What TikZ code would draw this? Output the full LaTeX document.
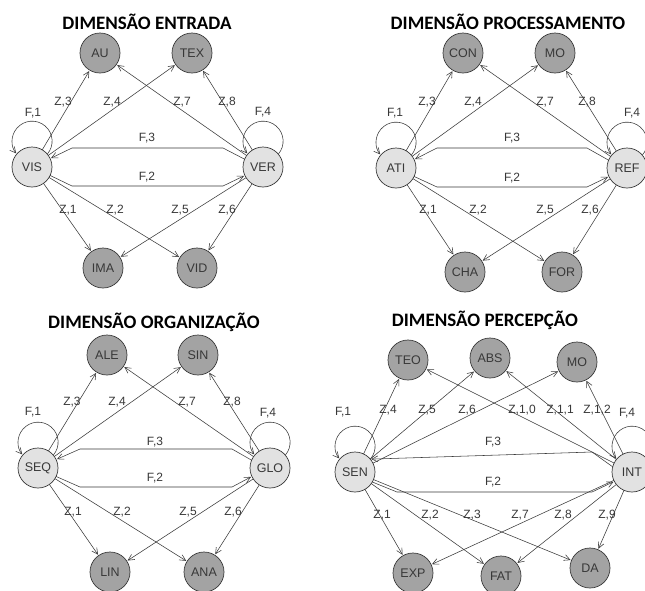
\documentclass[tikz,border=0pt]{standalone}
\usepackage{fontspec}
\setmainfont{Liberation Sans}
\newfontfamily\titlefont{Carlito}
\usetikzlibrary{arrows.meta,calc}
\definecolor{darkfill}{HTML}{A3A3A3}
\definecolor{lightfill}{HTML}{E2E2E2}
\definecolor{edgecol}{HTML}{3A3A3A}
\definecolor{txtcol}{HTML}{383838}
\newcommand\myloop[1]{\draw[arr] (#1.40.5) arc[start angle=-40.5,end angle=220.5,radius=20];}
\begin{document}
\begin{tikzpicture}[x=1pt,y=1pt,
  st/.style={circle,draw=edgecol,line width=0.7pt,minimum size=40pt,inner sep=0pt,outer sep=0pt,font=\fontsize{12.5}{14}\selectfont,text=txtcol},
  src/.style={st,fill=lightfill},
  tgt/.style={st,fill=darkfill},
  arr/.style={draw=edgecol,line width=0.55pt,-{Straight Barb[length=6pt,width=6pt]},shorten >=1pt},
  lbl/.style={font=\fontsize{12}{14}\selectfont,text=txtcol,inner sep=0pt},
  ttl/.style={font=\titlefont\bfseries\fontsize{19}{22}\selectfont,inner sep=0pt}]
\useasboundingbox (0,0) rectangle (645,-590);
\fill[white] (0,0) rectangle (645,-590);
% titles
\node[ttl] (t1) at (147,-22) {DIMENSÃO ENTRADA};
\node[ttl] (t2) at (508,-22) {DIMENSÃO PROCESSAMENTO};
\node[ttl] (t3) at (154,-322) {DIMENSÃO ORGANIZAÇÃO};
\node[ttl] (t4) at (485,-320) {DIMENSÃO PERCEPÇÃO};
% ---------- Q1
\node[tgt] (au) at (100,-53) {AU};
\node[tgt] (tex) at (192,-53) {TEX};
\node[src] (vis) at (32,-167) {VIS};
\node[src] (ver) at (263,-167) {VER};
\node[tgt] (ima) at (103,-268) {IMA};
\node[tgt] (vid) at (197,-268) {VID};
\myloop{vis}
\myloop{ver}
\draw[arr] (vis) -- (au);
\draw[arr] (vis) -- (tex);
\draw[arr] (ver) -- (au);
\draw[arr] (ver) -- (tex);
\draw[arr] (vis) -- (ima);
\draw[arr] (vis) -- (vid);
\draw[arr] (ver) -- (ima);
\draw[arr] (ver) -- (vid);
\draw[arr] (ver.157) -- ($(ver)+(-40,19)$) -- ($(vis)+(40,19)$) -- (vis.25);
\draw[arr] (vis.-25) -- ($(vis)+(40,-19)$) -- ($(ver)+(-40,-19)$) -- (ver.-155);
\node[lbl] (q1f1) at (33,-113) {F,1};
\node[lbl] (q1z3) at (63,-102) {Z,3};
\node[lbl] (q1z4) at (112,-102) {Z,4};
\node[lbl] (q1z7) at (182,-102) {Z,7};
\node[lbl] (q1z8) at (227,-102) {Z,8};
\node[lbl] (q1f4) at (263,-112) {F,4};
\node[lbl] (q1f3) at (147,-138) {F,3};
\node[lbl] (q1f2) at (147,-177) {F,2};
\node[lbl] (q1z1) at (68,-210) {Z,1};
\node[lbl] (q1z2) at (115,-210) {Z,2};
\node[lbl] (q1z5) at (180,-210) {Z,5};
\node[lbl] (q1z6) at (227,-210) {Z,6};
% ---------- Q2
\node[tgt] (con) at (463,-53) {CON};
\node[tgt] (mo1) at (555,-53) {MO};
\node[src] (ati) at (396,-168) {ATI};
\node[src] (ref) at (627,-168) {REF};
\node[tgt] (cha) at (465,-272) {CHA};
\node[tgt] (for) at (562,-272) {FOR};
\myloop{ati}
\myloop{ref}
\draw[arr] (ati) -- (con);
\draw[arr] (ati) -- (mo1);
\draw[arr] (ref) -- (con);
\draw[arr] (ref) -- (mo1);
\draw[arr] (ati) -- (cha);
\draw[arr] (ati) -- (for);
\draw[arr] (ref) -- (cha);
\draw[arr] (ref) -- (for);
\draw[arr] (ref.157) -- ($(ref)+(-40,20)$) -- ($(ati)+(41,20)$) -- (ati.25);
\draw[arr] (ati.-25) -- ($(ati)+(41,-19)$) -- ($(ref)+(-40,-19)$) -- (ref.-155);
\node[lbl] (q2f1) at (395,-113) {F,1};
\node[lbl] (q2z3) at (427,-102) {Z,3};
\node[lbl] (q2z4) at (473,-102) {Z,4};
\node[lbl] (q2z7) at (545,-102) {Z,7};
\node[lbl] (q2z8) at (587,-102) {Z,8};
\node[lbl] (q2f4) at (632,-113) {F,4};
\node[lbl] (q2f3) at (512,-138) {F,3};
\node[lbl] (q2f2) at (512,-178) {F,2};
\node[lbl] (q2z1) at (428,-210) {Z,1};
\node[lbl] (q2z2) at (478,-210) {Z,2};
\node[lbl] (q2z5) at (545,-210) {Z,5};
\node[lbl] (q2z6) at (590,-210) {Z,6};
% ---------- Q3
\node[tgt] (ale) at (107,-355) {ALE};
\node[tgt] (sin) at (198,-355) {SIN};
\node[src] (seq) at (38,-468) {SEQ};
\node[src] (glo) at (270,-468) {GLO};
\node[tgt] (lin) at (110,-572) {LIN};
\node[tgt] (ana) at (204,-572) {ANA};
\myloop{seq}
\myloop{glo}
\draw[arr] (seq) -- (ale);
\draw[arr] (seq) -- (sin);
\draw[arr] (glo) -- (ale);
\draw[arr] (glo) -- (sin);
\draw[arr] (seq) -- (lin);
\draw[arr] (seq) -- (ana);
\draw[arr] (glo) -- (lin);
\draw[arr] (glo) -- (ana);
\draw[arr] (glo.157) -- ($(glo)+(-38,19)$) -- ($(seq)+(42,19)$) -- (seq.25);
\draw[arr] (seq.-25) -- ($(seq)+(42,-19)$) -- ($(glo)+(-38,-19)$) -- (glo.-155);
\node[lbl] (q3f1) at (33,-412) {F,1};
\node[lbl] (q3z3) at (72,-402) {Z,3};
\node[lbl] (q3z4) at (117,-402) {Z,4};
\node[lbl] (q3z7) at (187,-402) {Z,7};
\node[lbl] (q3z8) at (232,-402) {Z,8};
\node[lbl] (q3f4) at (268,-413) {F,4};
\node[lbl] (q3f3) at (155,-442) {F,3};
\node[lbl] (q3f2) at (155,-478) {F,2};
\node[lbl] (q3z1) at (73,-512) {Z,1};
\node[lbl] (q3z2) at (122,-512) {Z,2};
\node[lbl] (q3z5) at (188,-512) {Z,5};
\node[lbl] (q3z6) at (233,-512) {Z,6};
% ---------- Q4
\node[tgt] (teo) at (408,-360) {TEO};
\node[tgt] (abs) at (490,-358) {ABS};
\node[tgt] (mo2) at (577,-362) {MO};
\node[src] (sen) at (355,-472) {SEN};
\node[src] (int) at (632,-472) {INT};
\node[tgt] (exp) at (413,-573) {EXP};
\node[tgt] (fat) at (501,-576) {FAT};
\node[tgt] (da) at (590,-568) {DA};
\myloop{sen}
\myloop{int}
\draw[arr] (sen) -- (teo);
\draw[arr] (sen) -- (abs);
\draw[arr] (sen) -- (mo2);
\draw[arr] (int) -- (teo);
\draw[arr] (int) -- (abs);
\draw[arr] (int) -- (mo2);
\draw[arr] (sen) -- (exp);
\draw[arr] (sen) -- (fat);
\draw[arr] (sen) -- (da);
\draw[arr] (int) -- (exp);
\draw[arr] (int) -- (fat);
\draw[arr] (int) -- (da);
\draw[arr] (int.165) -- ($(int)+(-40,20)$) -- (sen.40);
\draw[arr] (sen.-30) -- ($(sen)+(42,-20)$) -- ($(int)+(-40,-20)$) -- (int.-152);
\node[lbl] (q4f1) at (343,-412) {F,1};
\node[lbl] (q4z4) at (388,-410) {Z,4};
\node[lbl] (q4z5) at (427,-410) {Z,5};
\node[lbl] (q4z6) at (467,-410) {Z,6};
\node[lbl] (q4z10) at (522,-410) {Z,1,0};
\node[lbl] (q4z11) at (560,-410) {Z,1,1};
\node[lbl] (q4z12) at (597,-410) {Z,1,2};
\node[lbl] (q4f4) at (627,-413) {F,4};
\node[lbl] (q4f3) at (493,-442) {F,3};
\node[lbl] (q4f2) at (493,-482) {F,2};
\node[lbl] (q4z1) at (382,-515) {Z,1};
\node[lbl] (q4z2) at (430,-515) {Z,2};
\node[lbl] (q4z3) at (472,-515) {Z,3};
\node[lbl] (q4z7) at (520,-515) {Z,7};
\node[lbl] (q4z8) at (563,-515) {Z,8};
\node[lbl] (q4z9) at (607,-515) {Z,9};
\end{tikzpicture}
\end{document}
